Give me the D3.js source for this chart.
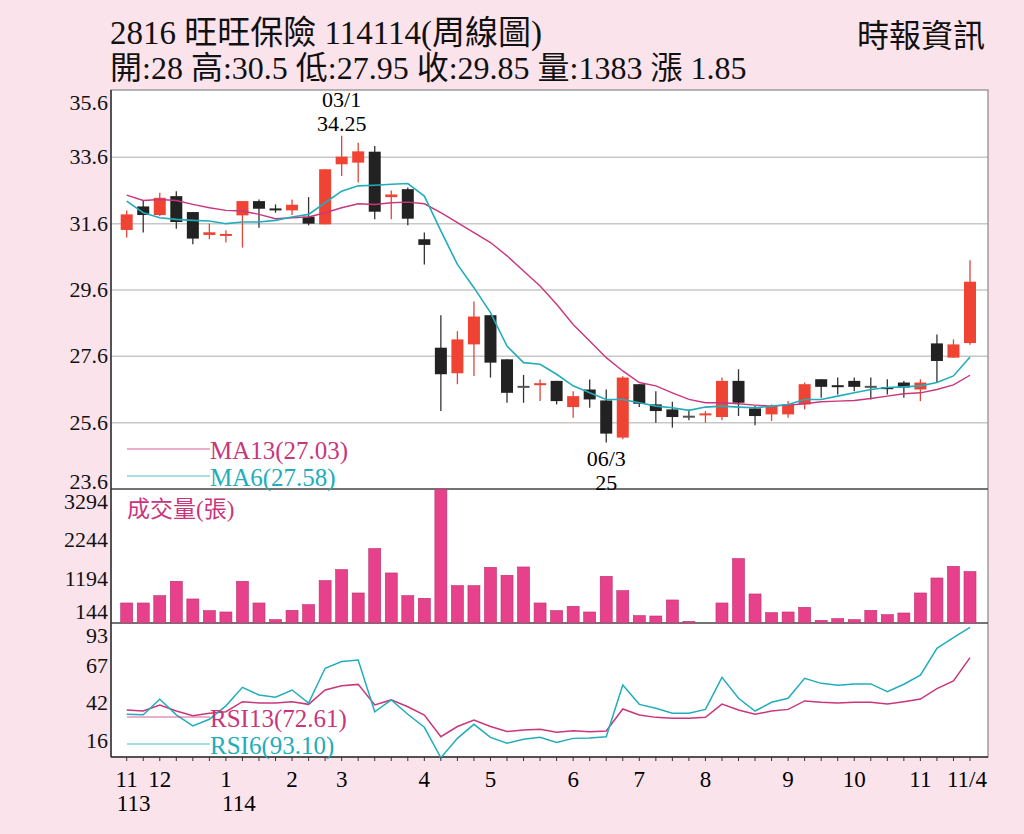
<!DOCTYPE html>
<html><head><meta charset="utf-8">
<script src="https://cdn.jsdelivr.net/npm/d3@7"></script>
<style>body{margin:0;background:#fbe3ec;}svg{display:block}</style>
</head><body><svg id="c" width="1024" height="834"></svg>
<script>
const opens =[31.41,32.12,31.86,32.43,31.95,31.26,31.2,31.85,32.28,32.03,32.0,31.81,31.58,33.39,33.44,33.77,32.4,32.64,31.13,27.86,27.09,27.96,28.84,27.51,26.68,26.74,26.86,26.07,26.6,26.27,25.15,26.76,26.15,26.0,25.78,25.8,25.77,26.86,26.03,25.85,25.85,26.15,26.91,26.7,26.86,26.68,26.64,26.81,26.6,27.99,27.56,28.0];
const closes=[31.88,31.86,32.38,31.65,31.15,31.34,31.26,32.28,32.05,32.0,32.17,31.6,33.24,33.62,33.78,31.96,32.48,31.75,30.96,27.06,28.11,28.8,27.41,26.5,26.68,26.76,26.25,26.4,26.3,25.27,26.96,26.17,25.95,25.77,25.77,25.85,26.86,26.2,25.8,26.1,26.15,26.76,26.68,26.66,26.68,26.68,26.58,26.66,26.81,27.46,27.96,29.85];
const highs =[32.0,32.28,32.53,32.58,31.95,31.6,31.4,32.28,32.33,32.18,32.33,32.4,33.25,34.25,34.04,33.94,32.6,32.69,31.33,28.84,28.36,29.25,28.84,27.51,27.04,26.9,26.86,26.55,26.9,26.6,27.0,26.76,26.55,26.23,26.0,25.95,26.96,27.21,26.1,26.15,26.25,26.81,26.91,26.96,26.96,26.96,26.91,26.86,26.91,28.26,28.11,30.5];
const lows  =[31.18,31.33,31.83,31.45,30.98,31.13,31.03,30.88,31.48,31.93,31.86,31.55,31.58,33.04,32.84,31.73,31.73,31.55,30.37,25.95,26.76,27.01,26.96,26.2,26.2,26.25,26.15,25.75,26.05,25.0,25.1,26.07,25.6,25.45,25.67,25.6,25.67,25.8,25.52,25.65,25.75,26.0,26.35,26.45,26.55,26.3,26.45,26.35,26.25,26.81,27.56,27.95];
const ma6 =[32.28,31.93,31.78,31.73,31.7,31.68,31.6,31.65,31.65,31.7,31.8,31.88,32.23,32.58,32.74,32.76,32.79,32.81,32.43,31.38,30.37,29.67,28.92,27.91,27.41,27.36,27.06,26.71,26.5,26.3,26.3,26.2,26.1,26.05,25.97,26.07,26.1,26.07,26.05,26.1,26.15,26.3,26.3,26.4,26.5,26.6,26.66,26.68,26.71,26.81,27.01,27.58];
const ma13=[32.46,32.3,32.33,32.3,32.18,32.08,32.0,31.98,31.88,31.75,31.78,31.8,31.93,32.08,32.2,32.18,32.23,32.25,32.2,31.93,31.63,31.33,31.03,30.63,30.17,29.72,29.17,28.56,28.06,27.56,27.16,26.81,26.71,26.5,26.3,26.2,26.2,26.17,26.13,26.1,26.13,26.17,26.23,26.25,26.27,26.33,26.4,26.47,26.5,26.6,26.74,27.03];
const volume=[538,538,735,1121,646,332,296,1121,538,90,341,493,1139,1435,807,2000,1345,735,664,3600,1004,1004,1497,1282,1506,538,332,448,296,1255,870,197,188,619,45,0,538,1730,780,278,296,421,72,117,90,341,224,269,807,1210,1524,1383];
const rsi13=[37.2,36.5,40.6,36.5,33.3,35,36,42.8,41.9,41.9,42.8,41,50.7,53.6,54.5,40.6,44,39.4,33.8,19.1,26,30.4,26,22.6,23.7,24.1,22.1,23.2,22.5,23,37.9,33.8,32.2,31.6,31.6,32.2,41.2,37.2,34.3,36.5,37.6,43.3,42.4,41.9,42.4,42.4,41.2,42.8,44.6,51.6,56.8,72.61];
const rsi6=[34.3,33.9,44.4,33.9,26.4,30.9,40,52.5,47.3,45.8,50.7,41.9,65.4,69.9,71,36,44,34.3,25.5,4.9,18,27.5,18.7,14.7,17.4,18.7,15.3,18,18.2,19.1,54.1,41,38.3,35,35,37.6,59.3,45.1,36.5,42.4,45.1,58.6,55.2,53.9,54.8,54.8,49.6,54.6,60.8,78.9,86.1,93.1];
const priceTicks=[35.6,33.6,31.6,29.6,27.6,25.6,23.6];
const volTicks=[3294,2244,1194,144];
const rsiTicks=[93,67,42,16];
const monthLabels=[{i:0,t:"11",y:"113"},{i:2,t:"12"},{i:6,t:"1",y:"114"},{i:10,t:"2"},{i:13,t:"3"},{i:18,t:"4"},{i:22,t:"5"},{i:27,t:"6"},{i:31,t:"7"},{i:35,t:"8"},{i:40,t:"9"},{i:44,t:"10"},{i:48,t:"11"},{i:51,t:"11/4"}];

const svg=d3.select("#c");
const L=111,R=988,T=90,PB=489,VB=623,RB=757;
const serif="'Liberation Serif','DejaVu Serif','Noto Sans CJK TC',serif";
const x=d3.scaleLinear().domain([0,51]).range([126.7,970]);
const y=d3.scaleLinear().domain([23.6,35.6]).range([PB,T+1]);
const yv=d3.scaleLinear().domain([0,3575]).range([VB,T+400]);
const yr=d3.scaleLinear().domain([0,96]).range([765,VB]);
const RED="#ef4433",BLK="#222",CY="#22adbb",MG="#c9367c";

svg.append("rect").attr("x",L).attr("y",T).attr("width",R-L).attr("height",RB-T).attr("fill","#fff");
svg.selectAll(".g").data(priceTicks.slice(1,-1)).enter().append("line").attr("x1",L).attr("x2",R)
 .attr("y1",d=>y(d)).attr("y2",d=>y(d)).attr("stroke","#c8c8c8").attr("stroke-width",1.5);
svg.append("rect").attr("x",L).attr("y",T).attr("width",R-L).attr("height",RB-T).attr("fill","none").attr("stroke","#888").attr("stroke-width",1.2);
[PB,VB].forEach(v=>svg.append("line").attr("x1",L).attr("x2",R).attr("y1",v).attr("y2",v).attr("stroke","#444").attr("stroke-width",1.5));
svg.append("line").attr("x1",L).attr("x2",R).attr("y1",RB).attr("y2",RB).attr("stroke","#333").attr("stroke-width",1.5);
svg.append("line").attr("x1",L).attr("x2",L).attr("y1",T).attr("y2",RB).attr("stroke","#333").attr("stroke-width",1.5);

const lab=(arr,sc,top,bot)=>svg.append("g").selectAll("text").data(arr).enter().append("text").attr("x",L-3)
 .attr("y",d=>Math.min(Math.max(sc(d),top+13),bot-11)+7)
 .attr("text-anchor","end").attr("font-family",serif).attr("font-size",22).attr("fill","#111").text(d=>d);
lab(priceTicks,y,T,PB+4);
lab(volTicks,yv,PB,VB);
lab(rsiTicks,yr,VB,RB);

const cg=svg.append("g");
opens.forEach((o,i)=>{
 const c=closes[i], up=c>o, col=Math.abs(c-o)<0.02?"#555":(up?RED:BLK);
 cg.append("line").attr("x1",x(i)).attr("x2",x(i)).attr("y1",y(highs[i])).attr("y2",y(lows[i])).attr("stroke",up?"#e0453a":"#333").attr("stroke-width",1.3);
 const top=y(Math.max(o,c)),h=Math.max(2,Math.abs(y(o)-y(c)));
 cg.append("rect").attr("x",x(i)-6).attr("width",12).attr("y",top-(h==2?1:0)).attr("height",h).attr("fill",col);
});
const line=(sc)=>d3.line().x((d,i)=>x(i)).y(d=>sc(d));
svg.append("path").attr("d",line(y)(ma13)).attr("fill","none").attr("stroke",MG).attr("stroke-width",1.4);
svg.append("path").attr("d",line(y)(ma6)).attr("fill","none").attr("stroke",CY).attr("stroke-width",1.6);

svg.append("defs").append("clipPath").attr("id","vc").append("rect").attr("x",L).attr("y",PB).attr("width",R-L).attr("height",VB-PB);
svg.append("g").attr("clip-path","url(#vc)").selectAll("rect").data(volume).enter().append("rect")
 .attr("x",(d,i)=>x(i)-6).attr("width",12).attr("y",d=>yv(d)).attr("height",d=>VB-yv(d))
 .attr("fill","#e8418c").attr("stroke","#b8306c").attr("stroke-width",0.6);

svg.append("path").attr("d",line(yr)(rsi13)).attr("fill","none").attr("stroke",MG).attr("stroke-width",1.5);
svg.append("path").attr("d",line(yr)(rsi6)).attr("fill","none").attr("stroke",CY).attr("stroke-width",1.5);

const leg=(y0,col,t,fs)=>{svg.append("line").attr("x1",127).attr("x2",210).attr("y1",y0).attr("y2",y0).attr("stroke",col).attr("stroke-width",1.2).attr("opacity",0.8);
 svg.append("text").attr("x",210).attr("y",y0+10).attr("font-family",serif).attr("font-size",fs).attr("fill",col).text(t);};
leg(449,MG,"MA13(27.03)",25);leg(476,CY,"MA6(27.58)",25);
leg(717,MG,"RSI13(72.61)",25);leg(744,CY,"RSI6(93.10)",25);
svg.append("text").attr("x",127).attr("y",517).attr("font-family",serif).attr("font-size",23).attr("fill",MG).text("成交量(張)");

const ann=(i,a,b,y1)=>{svg.append("text").attr("x",x(i)).attr("y",y1).attr("text-anchor","middle").attr("font-family",serif).attr("font-size",22).text(a);
 svg.append("text").attr("x",x(i)).attr("y",y1+24).attr("text-anchor","middle").attr("font-family",serif).attr("font-size",22).text(b);};
ann(13,"03/1","34.25",107);ann(29,"06/3","25",466);

svg.append("g").selectAll("line").data(d3.range(52)).enter().append("line").attr("x1",d=>x(d)).attr("x2",d=>x(d))
 .attr("y1",RB).attr("y2",RB+4).attr("stroke","#333");
monthLabels.forEach(m=>{
 svg.append("text").attr("x",x(m.i)+(m.t==="11/4"?-3:0)).attr("y",787).attr("text-anchor","middle").attr("font-family",serif).attr("font-size",23).text(m.t);
 if(m.y) svg.append("text").attr("x",x(m.i)+(m.i==0?7:13)).attr("y",811).attr("text-anchor","middle").attr("font-family",serif).attr("font-size",23).text(m.y);
});

svg.append("text").attr("x",110).attr("y",44).attr("font-family",serif).attr("font-size",33).attr("fill","#111").text("2816  旺旺保險 114114(周線圖)");
svg.append("text").attr("x",110).attr("y",79).attr("font-family",serif).attr("font-size",32).attr("fill","#111").text("開:28 高:30.5 低:27.95 收:29.85 量:1383 漲 1.85");
svg.append("text").attr("x",985).attr("y",47).attr("text-anchor","end").attr("font-family",serif).attr("font-size",32).attr("fill","#111").text("時報資訊");
</script></body></html>
